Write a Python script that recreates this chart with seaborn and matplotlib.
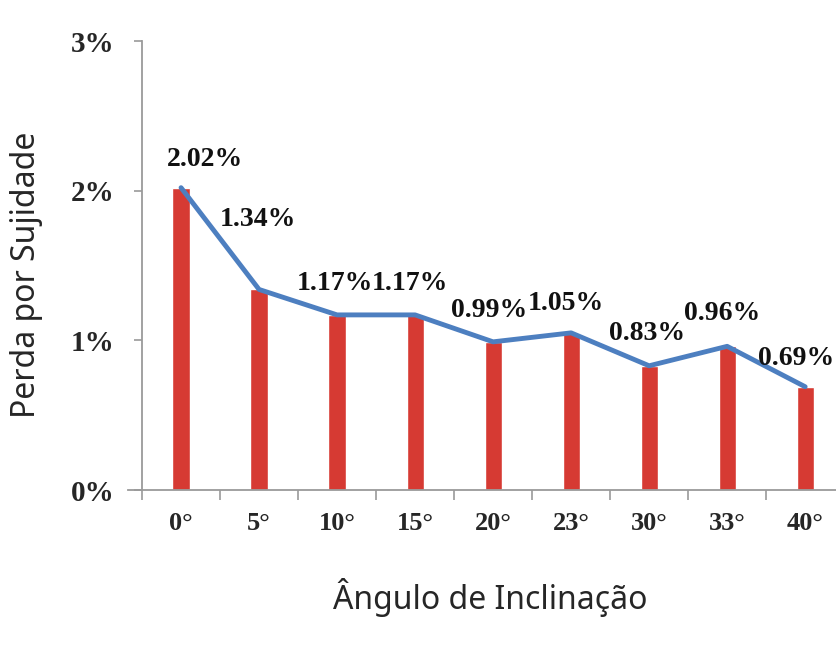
import matplotlib
matplotlib.use("Agg")
import matplotlib.pyplot as plt
from matplotlib.ticker import FixedLocator
import seaborn as sns
import numpy as np
import pandas as pd

# data
angles = ["0°", "5°", "10°", "15°", "20°", "23°", "30°", "33°", "40°"]
loss = [2.02, 1.34, 1.17, 1.17, 0.99, 1.05, 0.83, 0.96, 0.69]
loss_labels = ["2.02%", "1.34%", "1.17%", "1.17%", "0.99%", "1.05%", "0.83%", "0.96%", "0.69%"]
yticks = [0, 1, 2, 3]
ytick_labels = ["0%", "1%", "2%", "3%"]

# label offsets in points (dx, dy of baseline) from bar top
label_offsets = [(17, 15.8), (-1, 46), (-1.5, 17.6), (-4, 17.6), (-3, 17.6),
                 (-4, 16.2), (-1.5, 18.4), (-3.5, 18.7), (-6.5, 15.5)]

df = pd.DataFrame({"angle": angles, "loss": loss})

sns.set_theme(style="white")
serif = ["Liberation Serif", "DejaVu Serif"]
sans = ["Noto Sans", "DejaVu Sans"]

fig = plt.figure(figsize=(8.36, 6.51), dpi=100)
ax = fig.add_axes([0.1531, 0.2473, 0.866, 0.6897])

red = "#d63a33"
blue = "#4d7fc0"
sns.barplot(data=df, x="angle", y="loss", color=red, width=0.22, saturation=1, ax=ax)
sns.pointplot(data=df, x="angle", y="loss", color=blue, markers="", linewidth=3.5,
              errorbar=None, ax=ax)

for i, (v, lab) in enumerate(zip(loss, loss_labels)):
    dx, dy = label_offsets[i]
    ax.annotate(lab, (i, v), xytext=(dx, dy), textcoords="offset points",
                ha="center", va="baseline", fontsize=20, fontweight="bold",
                family=serif, color="#111111")

ax.set_xlim(-0.68, 8.6)
ax.set_ylim(0, 3)

for s in ["top", "right"]:
    ax.spines[s].set_visible(False)
ax.spines["left"].set_position(("data", -0.5))
for s in ["left", "bottom"]:
    ax.spines[s].set_color("#9a9a9a")
    ax.spines[s].set_linewidth(1.3)

ax.set_yticks(yticks)
ax.set_yticklabels(ytick_labels, fontsize=21, fontweight="bold", family=serif)
ax.tick_params(axis="y", left=True, length=6, width=1.2, color="#9a9a9a", pad=14)

ax.set_xticks(range(len(angles)))
ax.set_xticklabels(angles, fontsize=19, fontweight="bold", family=serif)
ax.xaxis.set_minor_locator(FixedLocator(np.arange(len(angles) + 1) - 0.5))
ax.tick_params(axis="x", which="major", bottom=True, length=0, pad=16)
ax.tick_params(axis="x", which="minor", bottom=True, length=7, width=1.2, color="#9a9a9a")

ax.set_xlabel("Ângulo de Inclinação", fontsize=23, family=sans, labelpad=31)
ax.set_ylabel("Perda por Sujidade", fontsize=23, family=sans)
ax.yaxis.set_label_coords(-0.118, 0.479)
ax.grid(False)

fig.savefig("out.png", dpi=100, facecolor="white")
